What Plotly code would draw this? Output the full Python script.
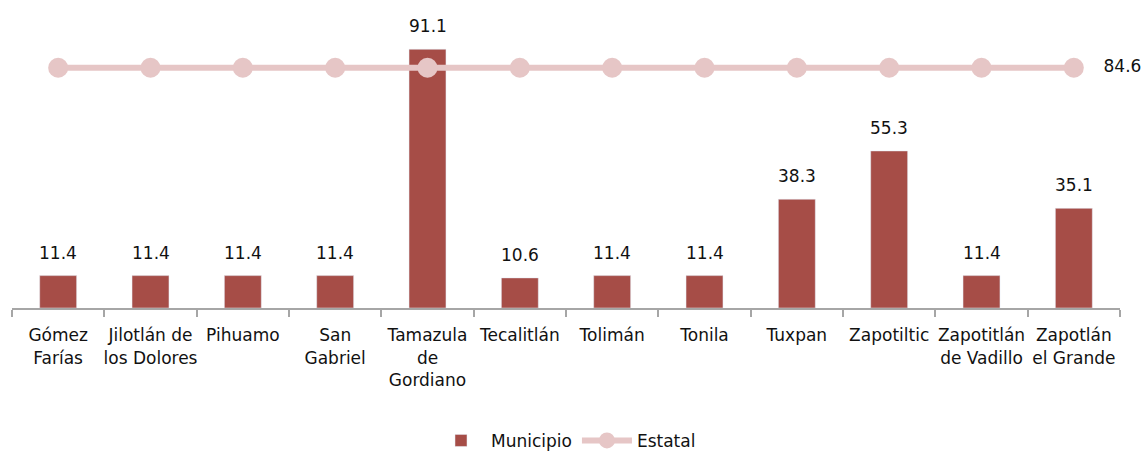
import plotly.graph_objects as go

categories = ["Gómez<br>Farías", "Jilotlán de<br>los Dolores", "Pihuamo", "San<br>Gabriel",
              "Tamazula<br>de<br>Gordiano", "Tecalitlán", "Tolimán", "Tonila", "Tuxpan",
              "Zapotiltic", "Zapotitlán<br>de Vadillo", "Zapotlán<br>el Grande"]
municipio = [11.4, 11.4, 11.4, 11.4, 91.1, 10.6, 11.4, 11.4, 38.3, 55.3, 11.4, 35.1]
estatal = [84.6] * 12

FONT = "DejaVu Sans"
TXT = "#111111"
fig = go.Figure()
fig.add_trace(go.Bar(
    x=categories, y=municipio, name="Municipio",
    marker=dict(color="#A64D47"), width=0.4,
))
line_text = [""] * (len(estatal) - 1) + [f"{estatal[-1]:.1f}"]
fig.add_trace(go.Scatter(
    x=categories, y=estatal, name="Estatal", mode="lines+markers+text",
    line=dict(color="#E6C6C6", width=6),
    marker=dict(color="#E6C6C6", size=20),
    text=["   " + t if t else "" for t in line_text], textposition="middle right",
    textfont=dict(size=17, color=TXT, family=FONT), cliponaxis=False,
))
for c, v in zip(categories, municipio):
    fig.add_annotation(x=c, y=v, text=f"{v:.1f}", showarrow=False, yshift=23,
                       font=dict(size=17, color=TXT, family=FONT))
fig.update_layout(
    width=1143, height=451,
    margin=dict(l=12, r=23, t=24, b=143, autoexpand=False),
    plot_bgcolor="white", paper_bgcolor="white",
    font=dict(family=FONT, size=17, color=TXT),
    showlegend=True,
    legend=dict(orientation="h", x=0.5, xanchor="center", y=-0.468, yanchor="middle",
                font=dict(size=17, family=FONT), itemwidth=50),
)
fig.update_xaxes(type="category", range=[-0.5, len(categories) - 0.5],
                 showline=True, linecolor="#A6A6A6", linewidth=2,
                 ticks="outside", tickson="boundaries", ticklen=7, tickcolor="#A6A6A6",
                 tickwidth=2, showgrid=False, tickangle=0, automargin=False,
                 ticklabelstandoff=11, tickfont=dict(size=17, family=FONT))
fig.update_yaxes(range=[0, 100], visible=False, showgrid=False)
fig.write_html("out.html", config={"displayModeBar": False},
               post_script="document.body.style.margin='0';document.body.style.overflow='hidden';")
